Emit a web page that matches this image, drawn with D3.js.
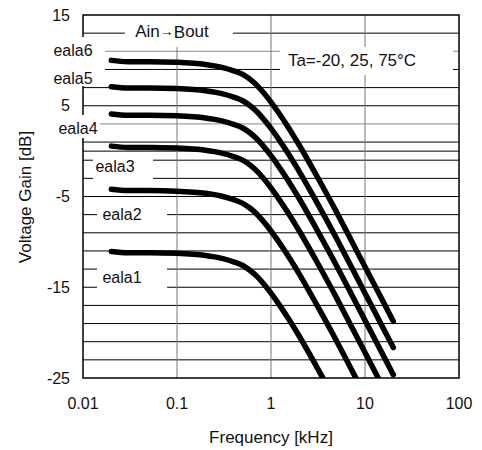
<!DOCTYPE html>
<html>
<head>
<meta charset="utf-8">
<script src="https://cdn.jsdelivr.net/npm/d3@7"></script>
<style>
  body { margin: 0; background: #fff; }
  svg text { font-family: "Liberation Sans", Arial, sans-serif; fill: #111; }
</style>
</head>
<body>
<script>
// Size of the svg element
var width = 482;
var height = 450;

// Frequency points (kHz)
var freqs = [0.02, 0.03, 0.05, 0.1, 0.15, 0.2, 0.3, 0.4, 0.5, 0.6, 0.7, 0.8, 1, 1.2, 1.5, 2, 3, 5, 7, 10, 15, 20];

// Voltage gain (dB) for each eala setting
var eala6 = [10.0, 9.85, 9.85, 9.79, 9.68, 9.55, 9.23, 8.85, 8.45, 7.9, 7.3, 6.65, 5.4, 4.25, 2.75, 0.65, -2.55, -6.75, -9.65, -12.75, -16.25, -18.75];
var eala5 = [7.1, 6.95, 6.95, 6.89, 6.78, 6.65, 6.33, 5.95, 5.55, 5.0, 4.4, 3.75, 2.5, 1.35, -0.15, -2.25, -5.45, -9.65, -12.55, -15.65, -19.15, -21.65];
var eala4 = [4.1, 3.95, 3.95, 3.89, 3.78, 3.65, 3.33, 2.95, 2.55, 2.0, 1.4, 0.75, -0.5, -1.65, -3.15, -5.25, -8.45, -12.65, -15.55, -18.65, -22.15, -24.65];
var eala3 = [0.55, 0.4, 0.4, 0.34, 0.23, 0.1, -0.22, -0.6, -1.0, -1.55, -2.15, -2.8, -4.05, -5.2, -6.7, -8.8, -12.0, -16.2, -19.1, -22.2, -25.7, -28.2];
var eala2 = [-4.2, -4.35, -4.35, -4.41, -4.52, -4.65, -4.97, -5.35, -5.75, -6.3, -6.9, -7.55, -8.8, -9.95, -11.45, -13.55, -16.75, -20.95, -23.85, -26.95, -30.45, -32.95];
var eala1 = [-11.05, -11.2, -11.2, -11.26, -11.37, -11.5, -11.82, -12.2, -12.6, -13.15, -13.75, -14.4, -15.65, -16.8, -18.3, -20.4, -23.6, -27.8, -30.7, -33.8, -37.3, -39.8];

var seriesList = [eala1, eala2, eala3, eala4, eala5, eala6];

// Axis ticks
var xTicks = [0.01, 0.1, 1, 10, 100];
var xTickLabels = ["0.01", "0.1", "1", "10", "100"];
var yTicks = [15, 5, -5, -15, -25];
var gridValues = d3.range(-23, 15, 2).concat([0]);
var grayGrid = [11, 3];

// Plot area
var plotLeft = 83, plotTop = 15, plotRight = 459, plotBottom = 378;

var x = d3.scaleLog().domain([0.01, 100]).range([plotLeft, plotRight]);
var y = d3.scaleLinear().domain([-25, 15]).range([plotBottom, plotTop]);

var svg = d3.select("body")
            .append("svg")
            .attr("width", width)
            .attr("height", height);

svg.append("rect")
    .attr("width", width)
    .attr("height", height)
    .attr("fill", "#fff");

// Horizontal grid lines
svg.selectAll("line.hgrid")
    .data(gridValues)
    .enter()
    .append("line")
    .attr("class", "hgrid")
    .attr("x1", plotLeft)
    .attr("x2", plotRight)
    .attr("y1", function(d) { return y(d); })
    .attr("y2", function(d) { return y(d); })
    .attr("stroke", function(d) { return grayGrid.indexOf(d) >= 0 ? "#8a8a8a" : "#000"; })
    .attr("stroke-width", 1);

// Vertical grid lines at each decade
svg.selectAll("line.vgrid")
    .data([0.1, 1, 10])
    .enter()
    .append("line")
    .attr("class", "vgrid")
    .attr("x1", function(d) { return x(d); })
    .attr("x2", function(d) { return x(d); })
    .attr("y1", plotTop)
    .attr("y2", plotBottom)
    .attr("stroke", "#777")
    .attr("stroke-width", 1);

// Frame
svg.append("rect")
    .attr("x", plotLeft)
    .attr("y", plotTop)
    .attr("width", plotRight - plotLeft)
    .attr("height", plotBottom - plotTop)
    .attr("fill", "none")
    .attr("stroke", "#000")
    .attr("stroke-width", 1.5);

// Labels sitting on white boxes over the grid
var notes = [
    {text: "eala6", cx: 73, cy: 50, bx: 50, by: 37, bw: 55, bh: 26, size: 16},
    {text: "eala5", cx: 73, cy: 78, bx: 50, by: 63, bw: 55, bh: 23, size: 16},
    {text: "eala4", cx: 78, cy: 128, bx: 55, by: 115, bw: 45, bh: 23, size: 16},
    {text: "eala3", cx: 115, cy: 166, bx: 93, by: 155, bw: 60, bh: 27, size: 16},
    {text: "eala2", cx: 122, cy: 214, bx: 97, by: 203, bw: 70, bh: 22, size: 16},
    {text: "eala1", cx: 122, cy: 277, bx: 97, by: 262, bw: 70, bh: 30, size: 16},
    {text: "Ta=-20, 25, 75°C", cx: 352, cy: 60, bx: 280, by: 47, bw: 173, bh: 28, size: 17}
];

svg.selectAll("rect.notebox")
    .data(notes)
    .enter()
    .append("rect")
    .attr("class", "notebox")
    .attr("x", function(d) { return d.bx; })
    .attr("y", function(d) { return d.by; })
    .attr("width", function(d) { return d.bw; })
    .attr("height", function(d) { return d.bh; })
    .attr("fill", "#fff");

svg.selectAll("text.note")
    .data(notes)
    .enter()
    .append("text")
    .attr("class", "note")
    .attr("x", function(d) { return d.cx; })
    .attr("y", function(d) { return d.cy; })
    .attr("text-anchor", "middle")
    .attr("dominant-baseline", "central")
    .style("font-size", function(d) { return d.size + "px"; })
    .text(function(d) { return d.text; });

// Ain -> Bout title box
svg.append("rect")
    .attr("x", 125)
    .attr("y", 16)
    .attr("width", 108)
    .attr("height", 31)
    .attr("fill", "#fff");

var ainText = svg.append("text")
    .attr("x", 172)
    .attr("y", 37)
    .attr("text-anchor", "middle")
    .style("font-size", "17px");
ainText.append("tspan").text("Ain");
ainText.append("tspan").style("font-size", "14px").attr("dy", -1).text("→");
ainText.append("tspan").attr("dy", 2).text("B");
ainText.append("tspan").attr("dy", -1).text("out");

// Curves, clipped to the plot area
svg.append("clipPath")
    .attr("id", "plotclip")
    .append("rect")
    .attr("x", plotLeft)
    .attr("y", plotTop)
    .attr("width", plotRight - plotLeft)
    .attr("height", plotBottom - plotTop);

var line = d3.line()
    .x(function(d, i) { return x(freqs[i]); })
    .y(function(d) { return y(d); })
    .curve(d3.curveMonotoneX);

svg.append("g")
    .attr("clip-path", "url(#plotclip)")
    .selectAll("path")
    .data(seriesList)
    .enter()
    .append("path")
    .attr("d", line)
    .attr("fill", "none")
    .attr("stroke", "#000")
    .attr("stroke-width", 5.5)
    .attr("stroke-linecap", "round")
    .attr("stroke-linejoin", "round");

// Axis tick labels
svg.selectAll("text.ytick")
    .data(yTicks)
    .enter()
    .append("text")
    .attr("class", "ytick")
    .attr("x", 70)
    .attr("y", function(d) { return y(d); })
    .attr("text-anchor", "end")
    .attr("dominant-baseline", "central")
    .style("font-size", "16px")
    .text(function(d) { return d; });

svg.selectAll("text.xtick")
    .data(xTicks)
    .enter()
    .append("text")
    .attr("class", "xtick")
    .attr("x", function(d) { return x(d); })
    .attr("y", 403)
    .attr("text-anchor", "middle")
    .attr("dominant-baseline", "central")
    .style("font-size", "16px")
    .text(function(d, i) { return xTickLabels[i]; });

// Axis titles
svg.append("text")
    .attr("x", 271)
    .attr("y", 437)
    .attr("text-anchor", "middle")
    .attr("dominant-baseline", "central")
    .style("font-size", "17px")
    .text("Frequency [kHz]");

svg.append("text")
    .attr("transform", "translate(25,197) rotate(-90)")
    .attr("text-anchor", "middle")
    .attr("dominant-baseline", "central")
    .style("font-size", "17px")
    .text("Voltage Gain [dB]");
</script>
</body>
</html>
